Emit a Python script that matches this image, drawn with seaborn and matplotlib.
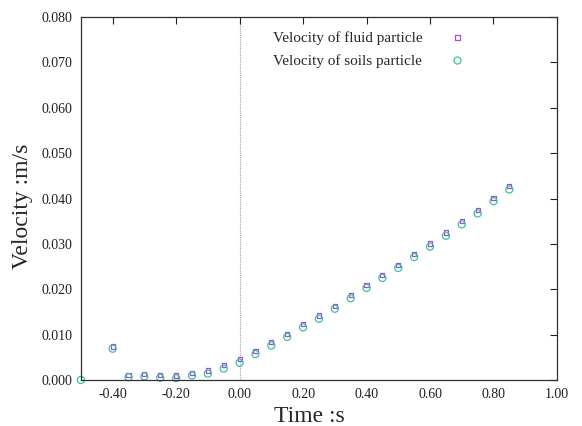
import numpy as np
import pandas as pd
import matplotlib
matplotlib.use('Agg')
import matplotlib.pyplot as plt
import seaborn as sns
from matplotlib.ticker import FormatStrFormatter

# dados
tempo_fluido = [-0.40, -0.35, -0.30, -0.25, -0.20, -0.15, -0.10, -0.05, 0.00,
                0.05, 0.10, 0.15, 0.20, 0.25, 0.30, 0.35, 0.40, 0.45, 0.50,
                0.55, 0.60, 0.65, 0.70, 0.75, 0.80, 0.85]
vel_fluido = [0.0074, 0.0011, 0.0014, 0.0011, 0.0010, 0.0016, 0.0021, 0.0033, 0.0046,
              0.0064, 0.0083, 0.0102, 0.0123, 0.0142, 0.0164, 0.0187, 0.0210, 0.0232, 0.0254,
              0.0278, 0.0301, 0.0325, 0.0350, 0.0374, 0.0401, 0.0427]

tempo_solo = [-0.50, -0.40, -0.35, -0.30, -0.25, -0.20, -0.15, -0.10, -0.05, 0.00,
              0.05, 0.10, 0.15, 0.20, 0.25, 0.30, 0.35, 0.40, 0.45, 0.50,
              0.55, 0.60, 0.65, 0.70, 0.75, 0.80, 0.85]
vel_solo = [0.0000, 0.0069, 0.0006, 0.0008, 0.0005, 0.0004, 0.0010, 0.0014, 0.0025, 0.0038,
            0.0057, 0.0076, 0.0095, 0.0116, 0.0135, 0.0157, 0.0180, 0.0203, 0.0225, 0.0247,
            0.0271, 0.0294, 0.0318, 0.0343, 0.0367, 0.0394, 0.0420]

x_ticks = [-0.4, -0.2, 0.0, 0.2, 0.4, 0.6, 0.8, 1.0]
y_ticks = [0.0, 0.01, 0.02, 0.03, 0.04, 0.05, 0.06, 0.07, 0.08]

sns.set_style('white')
plt.rcParams['font.family'] = ['Liberation Serif', 'DejaVu Serif']

fig = plt.figure(figsize=(5.82, 4.26), dpi=100)
ax = fig.add_axes([0.139, 0.108, 0.818, 0.852])

ax.axvline(0.0, color='#a0a0a0', lw=0.8, ls=(0, (1, 1)), zorder=0)

sns.scatterplot(x=tempo_fluido, y=vel_fluido, ax=ax, marker='s', s=9,
                facecolor='none', edgecolor='#a848e0', linewidth=0.9,
                label='Velocity of fluid particle', clip_on=False)
sns.scatterplot(x=tempo_solo, y=vel_solo, ax=ax, marker='o', s=26,
                facecolor='none', edgecolor='#38c498', linewidth=0.9,
                label='Velocity of soils particle', clip_on=False)

ax.set_xlim(-0.5, 1.0)
ax.set_ylim(0.0, 0.08)
ax.set_xticks(x_ticks)
ax.set_yticks(y_ticks)
ax.xaxis.set_major_formatter(FormatStrFormatter('%.2f'))
ax.yaxis.set_major_formatter(FormatStrFormatter('%.3f'))
ax.tick_params(direction='in', length=5, width=0.8, labelsize=10,
               top=True, right=True, colors='#202020', pad=6)
for s in ax.spines.values():
    s.set_color('#303030')
    s.set_linewidth(0.9)

ax.set_xlabel('Time :s', fontsize=17)
ax.set_ylabel('Velocity :m/s', fontsize=17)
ax.xaxis.set_label_coords(0.48, -0.072)
ax.yaxis.set_label_coords(-0.1, 0.478)

ax.legend(loc='upper right', frameon=False, markerfirst=False, fontsize=11,
          bbox_to_anchor=(0.852, 1.0), handletextpad=1.3, labelspacing=0.6)

fig.savefig('out.png', dpi=100)
